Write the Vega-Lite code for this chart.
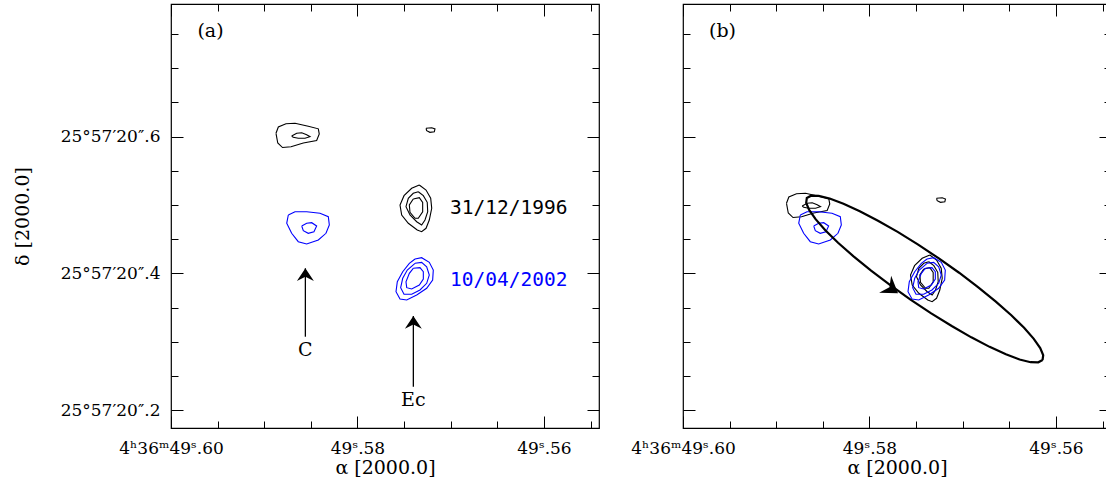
{
  "$schema": "https://vega.github.io/schema/vega-lite/v6.json",
  "background": "white",
  "padding": {"left": 12, "top": 2, "right": 0, "bottom": 0},
  "bounds": "flush",
  "spacing": 84,
  "config": {
    "view": {"stroke": "black", "strokeWidth": 1.2},
    "axis": {
      "grid": false, "domain": false, "tickColor": "black", "tickWidth": 1,
      "labelFont": "DejaVu Serif", "labelFontSize": 17, "labelColor": "black",
      "titleFont": "DejaVu Serif", "titleFontSize": 19, "titleFontWeight": "normal", "titleColor": "black"
    }
  },
  "datasets": {
    "contours": [
      {"p":"a","c":"C96o","e":"1996","ra":49.58874,"dec":20.6047},{"p":"a","c":"C96o","e":"1996","ra":49.58849,"dec":20.6139},{"p":"a","c":"C96o","e":"1996","ra":49.58767,"dec":20.6187},{"p":"a","c":"C96o","e":"1996","ra":49.58670,"dec":20.6193},{"p":"a","c":"C96o","e":"1996","ra":49.58528,"dec":20.6149},{"p":"a","c":"C96o","e":"1996","ra":49.58420,"dec":20.6112},{"p":"a","c":"C96o","e":"1996","ra":49.58410,"dec":20.6036},{"p":"a","c":"C96o","e":"1996","ra":49.58438,"dec":20.5942},{"p":"a","c":"C96o","e":"1996","ra":49.58581,"dec":20.5905},{"p":"a","c":"C96o","e":"1996","ra":49.58713,"dec":20.5851},{"p":"a","c":"C96o","e":"1996","ra":49.58804,"dec":20.5839},{"p":"a","c":"C96o","e":"1996","ra":49.58855,"dec":20.5905},{"p":"a","c":"C96o","e":"1996","ra":49.58874,"dec":20.6047},
      {"p":"a","c":"C96i","e":"1996","ra":49.58706,"dec":20.6007},{"p":"a","c":"C96i","e":"1996","ra":49.58652,"dec":20.6047},{"p":"a","c":"C96i","e":"1996","ra":49.58598,"dec":20.6055},{"p":"a","c":"C96i","e":"1996","ra":49.58545,"dec":20.6026},{"p":"a","c":"C96i","e":"1996","ra":49.58509,"dec":20.5997},{"p":"a","c":"C96i","e":"1996","ra":49.58563,"dec":20.5974},{"p":"a","c":"C96i","e":"1996","ra":49.58635,"dec":20.5974},{"p":"a","c":"C96i","e":"1996","ra":49.58689,"dec":20.5988},{"p":"a","c":"C96i","e":"1996","ra":49.58706,"dec":20.6007},
      {"p":"a","c":"S96","e":"1996","ra":49.57265,"dec":20.6120},{"p":"a","c":"S96","e":"1996","ra":49.57204,"dec":20.6128},{"p":"a","c":"S96","e":"1996","ra":49.57169,"dec":20.6110},{"p":"a","c":"S96","e":"1996","ra":49.57176,"dec":20.6070},{"p":"a","c":"S96","e":"1996","ra":49.57223,"dec":20.6061},{"p":"a","c":"S96","e":"1996","ra":49.57258,"dec":20.6085},{"p":"a","c":"S96","e":"1996","ra":49.57265,"dec":20.6120},
      {"p":"a","c":"E96o","e":"1996","ra":49.57337,"dec":20.5292},{"p":"a","c":"E96o","e":"1996","ra":49.57265,"dec":20.5219},{"p":"a","c":"E96o","e":"1996","ra":49.57215,"dec":20.5098},{"p":"a","c":"E96o","e":"1996","ra":49.57204,"dec":20.4952},{"p":"a","c":"E96o","e":"1996","ra":49.57230,"dec":20.4781},{"p":"a","c":"E96o","e":"1996","ra":49.57265,"dec":20.4660},{"p":"a","c":"E96o","e":"1996","ra":49.57312,"dec":20.4610},{"p":"a","c":"E96o","e":"1996","ra":49.57359,"dec":20.4635},{"p":"a","c":"E96o","e":"1996","ra":49.57455,"dec":20.4733},{"p":"a","c":"E96o","e":"1996","ra":49.57526,"dec":20.4854},{"p":"a","c":"E96o","e":"1996","ra":49.57544,"dec":20.5000},{"p":"a","c":"E96o","e":"1996","ra":49.57501,"dec":20.5136},{"p":"a","c":"E96o","e":"1996","ra":49.57419,"dec":20.5244},{"p":"a","c":"E96o","e":"1996","ra":49.57337,"dec":20.5292},
      {"p":"a","c":"E96m","e":"1996","ra":49.57348,"dec":20.5194},{"p":"a","c":"E96m","e":"1996","ra":49.57294,"dec":20.5136},{"p":"a","c":"E96m","e":"1996","ra":49.57252,"dec":20.5039},{"p":"a","c":"E96m","e":"1996","ra":49.57247,"dec":20.4902},{"p":"a","c":"E96m","e":"1996","ra":49.57276,"dec":20.4781},{"p":"a","c":"E96m","e":"1996","ra":49.57312,"dec":20.4708},{"p":"a","c":"E96m","e":"1996","ra":49.57365,"dec":20.4756},{"p":"a","c":"E96m","e":"1996","ra":49.57437,"dec":20.4854},{"p":"a","c":"E96m","e":"1996","ra":49.57480,"dec":20.4975},{"p":"a","c":"E96m","e":"1996","ra":49.57455,"dec":20.5098},{"p":"a","c":"E96m","e":"1996","ra":49.57402,"dec":20.5171},{"p":"a","c":"E96m","e":"1996","ra":49.57348,"dec":20.5194},
      {"p":"a","c":"E96i","e":"1996","ra":49.57402,"dec":20.5088},{"p":"a","c":"E96i","e":"1996","ra":49.57337,"dec":20.5107},{"p":"a","c":"E96i","e":"1996","ra":49.57301,"dec":20.5039},{"p":"a","c":"E96i","e":"1996","ra":49.57301,"dec":20.4902},{"p":"a","c":"E96i","e":"1996","ra":49.57348,"dec":20.4806},{"p":"a","c":"E96i","e":"1996","ra":49.57383,"dec":20.4806},{"p":"a","c":"E96i","e":"1996","ra":49.57437,"dec":20.4893},{"p":"a","c":"E96i","e":"1996","ra":49.57444,"dec":20.5000},{"p":"a","c":"E96i","e":"1996","ra":49.57402,"dec":20.5088},
      {"p":"a","c":"C02o","e":"2002","ra":49.58742,"dec":20.4854},{"p":"a","c":"C02o","e":"2002","ra":49.58670,"dec":20.4902},{"p":"a","c":"C02o","e":"2002","ra":49.58545,"dec":20.4902},{"p":"a","c":"C02o","e":"2002","ra":49.58402,"dec":20.4879},{"p":"a","c":"C02o","e":"2002","ra":49.58313,"dec":20.4829},{"p":"a","c":"C02o","e":"2002","ra":49.58302,"dec":20.4708},{"p":"a","c":"C02o","e":"2002","ra":49.58338,"dec":20.4587},{"p":"a","c":"C02o","e":"2002","ra":49.58420,"dec":20.4489},{"p":"a","c":"C02o","e":"2002","ra":49.58545,"dec":20.4431},{"p":"a","c":"C02o","e":"2002","ra":49.58635,"dec":20.4464},{"p":"a","c":"C02o","e":"2002","ra":49.58706,"dec":20.4587},{"p":"a","c":"C02o","e":"2002","ra":49.58759,"dec":20.4733},{"p":"a","c":"C02o","e":"2002","ra":49.58742,"dec":20.4854},
      {"p":"a","c":"C02i","e":"2002","ra":49.58598,"dec":20.4693},{"p":"a","c":"C02i","e":"2002","ra":49.58545,"dec":20.4733},{"p":"a","c":"C02i","e":"2002","ra":49.58491,"dec":20.4742},{"p":"a","c":"C02i","e":"2002","ra":49.58438,"dec":20.4693},{"p":"a","c":"C02i","e":"2002","ra":49.58467,"dec":20.4610},{"p":"a","c":"C02i","e":"2002","ra":49.58528,"dec":20.4587},{"p":"a","c":"C02i","e":"2002","ra":49.58581,"dec":20.4625},{"p":"a","c":"C02i","e":"2002","ra":49.58598,"dec":20.4693},
      {"p":"a","c":"E02o","e":"2002","ra":49.57383,"dec":20.4212},{"p":"a","c":"E02o","e":"2002","ra":49.57312,"dec":20.4231},{"p":"a","c":"E02o","e":"2002","ra":49.57230,"dec":20.4163},{"p":"a","c":"E02o","e":"2002","ra":49.57187,"dec":20.4051},{"p":"a","c":"E02o","e":"2002","ra":49.57194,"dec":20.3905},{"p":"a","c":"E02o","e":"2002","ra":49.57258,"dec":20.3784},{"p":"a","c":"E02o","e":"2002","ra":49.57365,"dec":20.3686},{"p":"a","c":"E02o","e":"2002","ra":49.57472,"dec":20.3613},{"p":"a","c":"E02o","e":"2002","ra":49.57544,"dec":20.3628},{"p":"a","c":"E02o","e":"2002","ra":49.57587,"dec":20.3734},{"p":"a","c":"E02o","e":"2002","ra":49.57573,"dec":20.3880},{"p":"a","c":"E02o","e":"2002","ra":49.57515,"dec":20.4026},{"p":"a","c":"E02o","e":"2002","ra":49.57444,"dec":20.4149},{"p":"a","c":"E02o","e":"2002","ra":49.57383,"dec":20.4212},
      {"p":"a","c":"E02m","e":"2002","ra":49.57383,"dec":20.4149},{"p":"a","c":"E02m","e":"2002","ra":49.57312,"dec":20.4163},{"p":"a","c":"E02m","e":"2002","ra":49.57258,"dec":20.4099},{"p":"a","c":"E02m","e":"2002","ra":49.57230,"dec":20.3978},{"p":"a","c":"E02m","e":"2002","ra":49.57258,"dec":20.3857},{"p":"a","c":"E02m","e":"2002","ra":49.57330,"dec":20.3759},{"p":"a","c":"E02m","e":"2002","ra":49.57419,"dec":20.3696},{"p":"a","c":"E02m","e":"2002","ra":49.57501,"dec":20.3696},{"p":"a","c":"E02m","e":"2002","ra":49.57537,"dec":20.3793},{"p":"a","c":"E02m","e":"2002","ra":49.57515,"dec":20.3930},{"p":"a","c":"E02m","e":"2002","ra":49.57466,"dec":20.4051},{"p":"a","c":"E02m","e":"2002","ra":49.57383,"dec":20.4149},
      {"p":"a","c":"E02i","e":"2002","ra":49.57402,"dec":20.4076},{"p":"a","c":"E02i","e":"2002","ra":49.57330,"dec":20.4085},{"p":"a","c":"E02i","e":"2002","ra":49.57294,"dec":20.4026},{"p":"a","c":"E02i","e":"2002","ra":49.57294,"dec":20.3920},{"p":"a","c":"E02i","e":"2002","ra":49.57337,"dec":20.3832},{"p":"a","c":"E02i","e":"2002","ra":49.57419,"dec":20.3774},{"p":"a","c":"E02i","e":"2002","ra":49.57472,"dec":20.3793},{"p":"a","c":"E02i","e":"2002","ra":49.57480,"dec":20.3880},{"p":"a","c":"E02i","e":"2002","ra":49.57444,"dec":20.4003},{"p":"a","c":"E02i","e":"2002","ra":49.57402,"dec":20.4076},

      {"p":"b","c":"C96o","e":"1996","ra":49.58890,"dec":20.5025},{"p":"b","c":"C96o","e":"1996","ra":49.58865,"dec":20.5117},{"p":"b","c":"C96o","e":"1996","ra":49.58783,"dec":20.5165},{"p":"b","c":"C96o","e":"1996","ra":49.58686,"dec":20.5171},{"p":"b","c":"C96o","e":"1996","ra":49.58544,"dec":20.5127},{"p":"b","c":"C96o","e":"1996","ra":49.58436,"dec":20.5090},{"p":"b","c":"C96o","e":"1996","ra":49.58426,"dec":20.5014},{"p":"b","c":"C96o","e":"1996","ra":49.58454,"dec":20.4920},{"p":"b","c":"C96o","e":"1996","ra":49.58597,"dec":20.4883},{"p":"b","c":"C96o","e":"1996","ra":49.58729,"dec":20.4829},{"p":"b","c":"C96o","e":"1996","ra":49.58820,"dec":20.4817},{"p":"b","c":"C96o","e":"1996","ra":49.58871,"dec":20.4883},{"p":"b","c":"C96o","e":"1996","ra":49.58890,"dec":20.5025},
      {"p":"b","c":"C96i","e":"1996","ra":49.58722,"dec":20.4985},{"p":"b","c":"C96i","e":"1996","ra":49.58668,"dec":20.5025},{"p":"b","c":"C96i","e":"1996","ra":49.58614,"dec":20.5033},{"p":"b","c":"C96i","e":"1996","ra":49.58561,"dec":20.5004},{"p":"b","c":"C96i","e":"1996","ra":49.58525,"dec":20.4975},{"p":"b","c":"C96i","e":"1996","ra":49.58579,"dec":20.4952},{"p":"b","c":"C96i","e":"1996","ra":49.58651,"dec":20.4952},{"p":"b","c":"C96i","e":"1996","ra":49.58705,"dec":20.4966},{"p":"b","c":"C96i","e":"1996","ra":49.58722,"dec":20.4985},
      {"p":"b","c":"S96","e":"1996","ra":49.57281,"dec":20.5098},{"p":"b","c":"S96","e":"1996","ra":49.57220,"dec":20.5106},{"p":"b","c":"S96","e":"1996","ra":49.57185,"dec":20.5088},{"p":"b","c":"S96","e":"1996","ra":49.57192,"dec":20.5048},{"p":"b","c":"S96","e":"1996","ra":49.57239,"dec":20.5039},{"p":"b","c":"S96","e":"1996","ra":49.57274,"dec":20.5063},{"p":"b","c":"S96","e":"1996","ra":49.57281,"dec":20.5098},
      {"p":"b","c":"E96o","e":"1996","ra":49.57353,"dec":20.4270},{"p":"b","c":"E96o","e":"1996","ra":49.57281,"dec":20.4197},{"p":"b","c":"E96o","e":"1996","ra":49.57231,"dec":20.4076},{"p":"b","c":"E96o","e":"1996","ra":49.57220,"dec":20.3930},{"p":"b","c":"E96o","e":"1996","ra":49.57246,"dec":20.3759},{"p":"b","c":"E96o","e":"1996","ra":49.57281,"dec":20.3638},{"p":"b","c":"E96o","e":"1996","ra":49.57328,"dec":20.3588},{"p":"b","c":"E96o","e":"1996","ra":49.57375,"dec":20.3613},{"p":"b","c":"E96o","e":"1996","ra":49.57471,"dec":20.3711},{"p":"b","c":"E96o","e":"1996","ra":49.57542,"dec":20.3832},{"p":"b","c":"E96o","e":"1996","ra":49.57560,"dec":20.3978},{"p":"b","c":"E96o","e":"1996","ra":49.57517,"dec":20.4114},{"p":"b","c":"E96o","e":"1996","ra":49.57435,"dec":20.4222},{"p":"b","c":"E96o","e":"1996","ra":49.57353,"dec":20.4270},
      {"p":"b","c":"E96m","e":"1996","ra":49.57364,"dec":20.4172},{"p":"b","c":"E96m","e":"1996","ra":49.57310,"dec":20.4114},{"p":"b","c":"E96m","e":"1996","ra":49.57268,"dec":20.4017},{"p":"b","c":"E96m","e":"1996","ra":49.57263,"dec":20.3880},{"p":"b","c":"E96m","e":"1996","ra":49.57292,"dec":20.3759},{"p":"b","c":"E96m","e":"1996","ra":49.57328,"dec":20.3686},{"p":"b","c":"E96m","e":"1996","ra":49.57381,"dec":20.3734},{"p":"b","c":"E96m","e":"1996","ra":49.57453,"dec":20.3832},{"p":"b","c":"E96m","e":"1996","ra":49.57496,"dec":20.3953},{"p":"b","c":"E96m","e":"1996","ra":49.57471,"dec":20.4076},{"p":"b","c":"E96m","e":"1996","ra":49.57418,"dec":20.4149},{"p":"b","c":"E96m","e":"1996","ra":49.57364,"dec":20.4172},
      {"p":"b","c":"E96i","e":"1996","ra":49.57418,"dec":20.4066},{"p":"b","c":"E96i","e":"1996","ra":49.57353,"dec":20.4085},{"p":"b","c":"E96i","e":"1996","ra":49.57317,"dec":20.4017},{"p":"b","c":"E96i","e":"1996","ra":49.57317,"dec":20.3880},{"p":"b","c":"E96i","e":"1996","ra":49.57364,"dec":20.3784},{"p":"b","c":"E96i","e":"1996","ra":49.57399,"dec":20.3784},{"p":"b","c":"E96i","e":"1996","ra":49.57453,"dec":20.3871},{"p":"b","c":"E96i","e":"1996","ra":49.57460,"dec":20.3978},{"p":"b","c":"E96i","e":"1996","ra":49.57418,"dec":20.4066},
      {"p":"b","c":"C02o","e":"2002","ra":49.58742,"dec":20.4854},{"p":"b","c":"C02o","e":"2002","ra":49.58670,"dec":20.4902},{"p":"b","c":"C02o","e":"2002","ra":49.58545,"dec":20.4902},{"p":"b","c":"C02o","e":"2002","ra":49.58402,"dec":20.4879},{"p":"b","c":"C02o","e":"2002","ra":49.58313,"dec":20.4829},{"p":"b","c":"C02o","e":"2002","ra":49.58302,"dec":20.4708},{"p":"b","c":"C02o","e":"2002","ra":49.58338,"dec":20.4587},{"p":"b","c":"C02o","e":"2002","ra":49.58420,"dec":20.4489},{"p":"b","c":"C02o","e":"2002","ra":49.58545,"dec":20.4431},{"p":"b","c":"C02o","e":"2002","ra":49.58635,"dec":20.4464},{"p":"b","c":"C02o","e":"2002","ra":49.58706,"dec":20.4587},{"p":"b","c":"C02o","e":"2002","ra":49.58759,"dec":20.4733},{"p":"b","c":"C02o","e":"2002","ra":49.58742,"dec":20.4854},
      {"p":"b","c":"C02i","e":"2002","ra":49.58598,"dec":20.4693},{"p":"b","c":"C02i","e":"2002","ra":49.58545,"dec":20.4733},{"p":"b","c":"C02i","e":"2002","ra":49.58491,"dec":20.4742},{"p":"b","c":"C02i","e":"2002","ra":49.58438,"dec":20.4693},{"p":"b","c":"C02i","e":"2002","ra":49.58467,"dec":20.4610},{"p":"b","c":"C02i","e":"2002","ra":49.58528,"dec":20.4587},{"p":"b","c":"C02i","e":"2002","ra":49.58581,"dec":20.4625},{"p":"b","c":"C02i","e":"2002","ra":49.58598,"dec":20.4693},
      {"p":"b","c":"E02o","e":"2002","ra":49.57383,"dec":20.4212},{"p":"b","c":"E02o","e":"2002","ra":49.57312,"dec":20.4231},{"p":"b","c":"E02o","e":"2002","ra":49.57230,"dec":20.4163},{"p":"b","c":"E02o","e":"2002","ra":49.57187,"dec":20.4051},{"p":"b","c":"E02o","e":"2002","ra":49.57194,"dec":20.3905},{"p":"b","c":"E02o","e":"2002","ra":49.57258,"dec":20.3784},{"p":"b","c":"E02o","e":"2002","ra":49.57365,"dec":20.3686},{"p":"b","c":"E02o","e":"2002","ra":49.57472,"dec":20.3613},{"p":"b","c":"E02o","e":"2002","ra":49.57544,"dec":20.3628},{"p":"b","c":"E02o","e":"2002","ra":49.57587,"dec":20.3734},{"p":"b","c":"E02o","e":"2002","ra":49.57573,"dec":20.3880},{"p":"b","c":"E02o","e":"2002","ra":49.57515,"dec":20.4026},{"p":"b","c":"E02o","e":"2002","ra":49.57444,"dec":20.4149},{"p":"b","c":"E02o","e":"2002","ra":49.57383,"dec":20.4212},
      {"p":"b","c":"E02m","e":"2002","ra":49.57383,"dec":20.4149},{"p":"b","c":"E02m","e":"2002","ra":49.57312,"dec":20.4163},{"p":"b","c":"E02m","e":"2002","ra":49.57258,"dec":20.4099},{"p":"b","c":"E02m","e":"2002","ra":49.57230,"dec":20.3978},{"p":"b","c":"E02m","e":"2002","ra":49.57258,"dec":20.3857},{"p":"b","c":"E02m","e":"2002","ra":49.57330,"dec":20.3759},{"p":"b","c":"E02m","e":"2002","ra":49.57419,"dec":20.3696},{"p":"b","c":"E02m","e":"2002","ra":49.57501,"dec":20.3696},{"p":"b","c":"E02m","e":"2002","ra":49.57537,"dec":20.3793},{"p":"b","c":"E02m","e":"2002","ra":49.57515,"dec":20.3930},{"p":"b","c":"E02m","e":"2002","ra":49.57466,"dec":20.4051},{"p":"b","c":"E02m","e":"2002","ra":49.57383,"dec":20.4149},
      {"p":"b","c":"E02i","e":"2002","ra":49.57402,"dec":20.4076},{"p":"b","c":"E02i","e":"2002","ra":49.57330,"dec":20.4085},{"p":"b","c":"E02i","e":"2002","ra":49.57294,"dec":20.4026},{"p":"b","c":"E02i","e":"2002","ra":49.57294,"dec":20.3920},{"p":"b","c":"E02i","e":"2002","ra":49.57337,"dec":20.3832},{"p":"b","c":"E02i","e":"2002","ra":49.57419,"dec":20.3774},{"p":"b","c":"E02i","e":"2002","ra":49.57472,"dec":20.3793},{"p":"b","c":"E02i","e":"2002","ra":49.57480,"dec":20.3880},{"p":"b","c":"E02i","e":"2002","ra":49.57444,"dec":20.4003},{"p":"b","c":"E02i","e":"2002","ra":49.57402,"dec":20.4076}
    ],
    "ellipse": [
      {"ra":49.56144,"dec":20.2737},{"ra":49.56190,"dec":20.2703},{"ra":49.56272,"dec":20.2705},{"ra":49.56390,"dec":20.2745},{"ra":49.56537,"dec":20.2820},{"ra":49.56712,"dec":20.2929},{"ra":49.56908,"dec":20.3068},{"ra":49.57118,"dec":20.3233},{"ra":49.57338,"dec":20.3418},{"ra":49.57560,"dec":20.3619},{"ra":49.57777,"dec":20.3829},{"ra":49.57983,"dec":20.4041},{"ra":49.58171,"dec":20.4250},{"ra":49.58337,"dec":20.4449},{"ra":49.58474,"dec":20.4632},{"ra":49.58578,"dec":20.4793},{"ra":49.58647,"dec":20.4928},{"ra":49.58679,"dec":20.5032},{"ra":49.58672,"dec":20.5102},{"ra":49.58626,"dec":20.5136},{"ra":49.58544,"dec":20.5134},{"ra":49.58427,"dec":20.5094},{"ra":49.58279,"dec":20.5019},{"ra":49.58104,"dec":20.4910},{"ra":49.57909,"dec":20.4771},{"ra":49.57698,"dec":20.4607},{"ra":49.57478,"dec":20.4421},{"ra":49.57256,"dec":20.4220},{"ra":49.57039,"dec":20.4011},{"ra":49.56833,"dec":20.3798},{"ra":49.56645,"dec":20.3589},{"ra":49.56479,"dec":20.3390},{"ra":49.56342,"dec":20.3207},{"ra":49.56238,"dec":20.3046},{"ra":49.56169,"dec":20.2911},{"ra":49.56137,"dec":20.2807},{"ra":49.56144,"dec":20.2737}
    ],
    "arrows": [
      {"p":"a","ra":49.58559,"tip":20.4076,"base":20.3077},
      {"p":"a","ra":49.57401,"tip":20.3380,"base":20.2347}
    ],
    "heads": [
      {"p":"a","ra":49.58559,"dec":20.4076},
      {"p":"a","ra":49.57401,"dec":20.3380},
      {"p":"b","ra":49.57694,"dec":20.3711}
    ],
    "notes": [
      {"p":"a","t":"(a)","ra":49.59576,"dec":20.7547},
      {"p":"b","t":"(b)","ra":49.59576,"dec":20.7547},
      {"p":"a","t":"C","ra":49.58559,"dec":20.2883},
      {"p":"a","t":"Ec","ra":49.57401,"dec":20.2153}
    ],
    "dates": [
      {"t":"31/12/1996","e":"1996","ra":49.57008,"dec":20.4949},
      {"t":"10/04/2002","e":"2002","ra":49.57008,"dec":20.3912}
    ]
  },
  "hconcat": [
    {
      "width": 428, "height": 424,
      "resolve": {"axis": {"x": "independent", "y": "independent"}},
      "layer": [
        {
          "data": {"name": "contours"},
          "transform": [{"filter": "datum.p == 'a'"}],
          "mark": {"type": "line", "strokeWidth": 1.1},
          "encoding": {
            "x": {"field": "ra", "type": "quantitative", "scale": {"domain": [49.5541, 49.6], "reverse": true, "nice": false, "zero": false},
              "axis": {"orient": "bottom", "values": [49.6,49.595,49.59,49.585,49.58,49.575,49.57,49.565,49.56,49.555],
                "labelExpr": "datum.value == 49.6 ? '4ʰ36ᵐ49ˢ.60' : datum.value == 49.58 ? '49ˢ.58' : datum.value == 49.56 ? '49ˢ.56' : ''",
                "labelFlush": false, "labelOverlap": false,
                "tickSize": {"condition": {"test": "datum.value == 49.6 || datum.value == 49.58 || datum.value == 49.56", "value": -12}, "value": -7},
                "labelPadding": 24, "title": "α [2000.0]", "titlePadding": -3}},
            "y": {"field": "dec", "type": "quantitative", "scale": {"domain": [20.17444, 20.79344], "nice": false, "zero": false},
              "axis": {"orient": "left", "values": [20.2,20.25,20.3,20.35,20.4,20.45,20.5,20.55,20.6,20.65,20.7,20.75],
                "labelExpr": "datum.value == 20.2 ? '25°57′20″.2' : datum.value == 20.4 ? '25°57′20″.4' : datum.value == 20.6 ? '25°57′20″.6' : ''",
                "labelOverlap": false,
                "tickSize": {"condition": {"test": "datum.value == 20.2 || datum.value == 20.4 || datum.value == 20.6", "value": -12}, "value": -7},
                "labelPadding": 23, "title": "δ [2000.0]", "titlePadding": 28}},
            "detail": {"field": "c", "type": "nominal"},
            "order": {"value": null},
            "color": {"field": "e", "type": "nominal", "scale": {"domain": ["1996", "2002"], "range": ["#000000", "#0000ff"]}, "legend": null}
          }
        },
        {
          "data": {"name": "arrows"},
          "mark": {"type": "rule", "strokeWidth": 1.3, "color": "black"},
          "encoding": {
            "x": {"field": "ra", "type": "quantitative", "scale": {"domain": [49.5541, 49.6], "reverse": true, "nice": false, "zero": false},
              "axis": {"orient": "top", "values": [49.6,49.595,49.59,49.585,49.58,49.575,49.57,49.565,49.56,49.555], "labels": false, "title": null,
                "tickSize": {"condition": {"test": "datum.value == 49.6 || datum.value == 49.58 || datum.value == 49.56", "value": -12}, "value": -7}}},
            "y": {"field": "tip", "type": "quantitative", "scale": {"domain": [20.17444, 20.79344], "nice": false, "zero": false},
              "axis": {"orient": "right", "values": [20.2,20.25,20.3,20.35,20.4,20.45,20.5,20.55,20.6,20.65,20.7,20.75], "labels": false, "title": null,
                "tickSize": {"condition": {"test": "datum.value == 20.2 || datum.value == 20.4 || datum.value == 20.6", "value": -12}, "value": -7}}},
            "y2": {"field": "base"}
          }
        },
        {
          "data": {"name": "heads"},
          "transform": [{"filter": "datum.p == 'a'"}],
          "mark": {"type": "point", "shape": "M0,0L-1.5,-1L-1,0L-1.5,1Z", "filled": true, "color": "black", "opacity": 1, "size": 289, "angle": 270},
          "encoding": {
            "x": {"field": "ra", "type": "quantitative", "scale": {"domain": [49.5541, 49.6], "reverse": true, "nice": false, "zero": false}, "axis": null},
            "y": {"field": "dec", "type": "quantitative", "scale": {"domain": [20.17444, 20.79344], "nice": false, "zero": false}, "axis": null}
          }
        },
        {
          "data": {"name": "notes"},
          "transform": [{"filter": "datum.p == 'a'"}],
          "mark": {"type": "text", "font": "DejaVu Serif", "fontSize": 19, "color": "black", "align": "center", "baseline": "middle"},
          "encoding": {
            "x": {"field": "ra", "type": "quantitative", "scale": {"domain": [49.5541, 49.6], "reverse": true, "nice": false, "zero": false}, "axis": null},
            "y": {"field": "dec", "type": "quantitative", "scale": {"domain": [20.17444, 20.79344], "nice": false, "zero": false}, "axis": null},
            "text": {"field": "t"}
          }
        },
        {
          "data": {"name": "dates"},
          "mark": {"type": "text", "font": "DejaVu Sans Mono", "fontSize": 19.5, "align": "left", "baseline": "middle"},
          "encoding": {
            "x": {"field": "ra", "type": "quantitative", "scale": {"domain": [49.5541, 49.6], "reverse": true, "nice": false, "zero": false}, "axis": null},
            "y": {"field": "dec", "type": "quantitative", "scale": {"domain": [20.17444, 20.79344], "nice": false, "zero": false}, "axis": null},
            "text": {"field": "t"},
            "color": {"field": "e", "type": "nominal", "scale": {"domain": ["1996", "2002"], "range": ["#000000", "#0000ff"]}, "legend": null}
          }
        }
      ]
    },
    {
      "width": 428, "height": 424,
      "resolve": {"axis": {"x": "independent", "y": "independent"}},
      "layer": [
        {
          "data": {"name": "contours"},
          "transform": [{"filter": "datum.p == 'b'"}],
          "mark": {"type": "line", "strokeWidth": 1.1},
          "encoding": {
            "x": {"field": "ra", "type": "quantitative", "scale": {"domain": [49.5541, 49.6], "reverse": true, "nice": false, "zero": false},
              "axis": {"orient": "bottom", "values": [49.6,49.595,49.59,49.585,49.58,49.575,49.57,49.565,49.56,49.555],
                "labelExpr": "datum.value == 49.6 ? '4ʰ36ᵐ49ˢ.60' : datum.value == 49.58 ? '49ˢ.58' : datum.value == 49.56 ? '49ˢ.56' : ''",
                "labelFlush": false, "labelOverlap": false,
                "tickSize": {"condition": {"test": "datum.value == 49.6 || datum.value == 49.58 || datum.value == 49.56", "value": -12}, "value": -7},
                "labelPadding": 24, "title": "α [2000.0]", "titlePadding": -3}},
            "y": {"field": "dec", "type": "quantitative", "scale": {"domain": [20.17444, 20.79344], "nice": false, "zero": false},
              "axis": {"orient": "left", "values": [20.2,20.25,20.3,20.35,20.4,20.45,20.5,20.55,20.6,20.65,20.7,20.75], "labels": false, "title": null,
                "tickSize": {"condition": {"test": "datum.value == 20.2 || datum.value == 20.4 || datum.value == 20.6", "value": -12}, "value": -7}}},
            "detail": {"field": "c", "type": "nominal"},
            "order": {"value": null},
            "color": {"field": "e", "type": "nominal", "scale": {"domain": ["1996", "2002"], "range": ["#000000", "#0000ff"]}, "legend": null}
          }
        },
        {
          "data": {"name": "ellipse"},
          "mark": {"type": "line", "strokeWidth": 2.2, "color": "black"},
          "encoding": {
            "x": {"field": "ra", "type": "quantitative", "scale": {"domain": [49.5541, 49.6], "reverse": true, "nice": false, "zero": false},
              "axis": {"orient": "top", "values": [49.6,49.595,49.59,49.585,49.58,49.575,49.57,49.565,49.56,49.555], "labels": false, "title": null,
                "tickSize": {"condition": {"test": "datum.value == 49.6 || datum.value == 49.58 || datum.value == 49.56", "value": -12}, "value": -7}}},
            "y": {"field": "dec", "type": "quantitative", "scale": {"domain": [20.17444, 20.79344], "nice": false, "zero": false},
              "axis": {"orient": "right", "values": [20.2,20.25,20.3,20.35,20.4,20.45,20.5,20.55,20.6,20.65,20.7,20.75], "labels": false, "title": null,
                "tickSize": {"condition": {"test": "datum.value == 20.2 || datum.value == 20.4 || datum.value == 20.6", "value": -12}, "value": -7}}},
            "order": {"value": null}
          }
        },
        {
          "data": {"name": "heads"},
          "transform": [{"filter": "datum.p == 'b'"}],
          "mark": {"type": "point", "shape": "M0,0L-1.5,-1L-1,0L-1.5,1Z", "filled": true, "color": "black", "opacity": 1, "size": 441, "angle": 35},
          "encoding": {
            "x": {"field": "ra", "type": "quantitative", "scale": {"domain": [49.5541, 49.6], "reverse": true, "nice": false, "zero": false}, "axis": null},
            "y": {"field": "dec", "type": "quantitative", "scale": {"domain": [20.17444, 20.79344], "nice": false, "zero": false}, "axis": null}
          }
        },
        {
          "data": {"name": "notes"},
          "transform": [{"filter": "datum.p == 'b'"}],
          "mark": {"type": "text", "font": "DejaVu Serif", "fontSize": 19, "color": "black", "align": "center", "baseline": "middle"},
          "encoding": {
            "x": {"field": "ra", "type": "quantitative", "scale": {"domain": [49.5541, 49.6], "reverse": true, "nice": false, "zero": false}, "axis": null},
            "y": {"field": "dec", "type": "quantitative", "scale": {"domain": [20.17444, 20.79344], "nice": false, "zero": false}, "axis": null},
            "text": {"field": "t"}
          }
        }
      ]
    }
  ]
}
